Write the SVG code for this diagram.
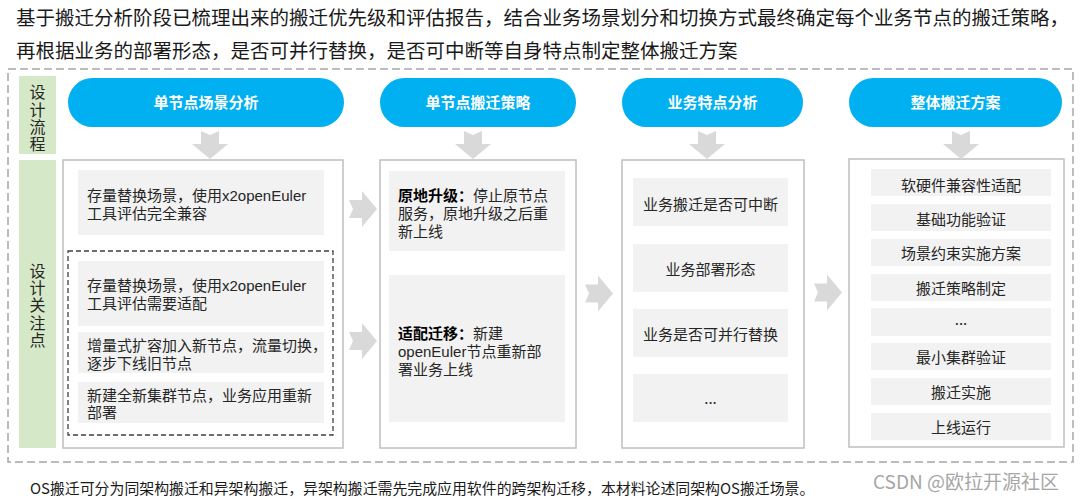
<svg xmlns="http://www.w3.org/2000/svg" width="1080" height="500" viewBox="0 0 1080 500">
<style>
  text { font-family: "Noto Sans CJK SC", "Noto Sans", sans-serif; fill: #262626; }
  .title { font-size: 19.5px; fill: #1a1a1a; }
  .note { font-size: 14.9px; fill: #1a1a1a; }
  .wm { font-size: 19px; fill: #a6a6a6; }
  .side { font-size: 16px; fill: #262626; writing-mode: vertical-rl; text-anchor: middle; letter-spacing: 1.3px; }
  .pill { fill: #00b0f0; }
  .pilltxt { font-size: 15px; font-weight: bold; fill: #ffffff; text-anchor: middle; }
  .col { fill: #ffffff; stroke: #bfbfbf; stroke-width: 1.5; }
  .item { fill: #f2f2f2; }
  .t { font-size: 15px; }
  .m { font-family: "Liberation Sans", "Noto Sans CJK SC", sans-serif; font-size: 15px; }
  .c { text-anchor: middle; }
  .b { font-weight: bold; fill: #000000; }
  .green { fill: #d5e8c8; }
  .arrow { fill: #d9d9d9; }
</style>
<defs>
  <path id="arr" d="M -9 0 L 0 4 L 9 0 L 9 13 L 18 13 L 0 28 L -18 13 L -9 13 Z"/>
</defs>
<rect width="1080" height="500" fill="#ffffff"/>

<text class="title" x="16" y="25">基于搬迁分析阶段已梳理出来的搬迁优先级和评估报告，结合业务场景划分和切换方式最终确定每个业务节点的搬迁策略，</text>
<text class="title" x="16" y="58">再根据业务的部署形态，是否可并行替换，是否可中断等自身特点制定整体搬迁方案</text>

<rect id="frame" x="8" y="69" width="1065" height="393" fill="none" stroke="#a6a6a6" stroke-width="1.5" stroke-dasharray="8 4"/>

<g id="label-flow">
  <rect class="green" x="19" y="76" width="37" height="78"/>
  <text class="side" x="37.5" y="119">设计流程</text>
</g>
<g id="label-focus">
  <rect class="green" x="19" y="160" width="37" height="288"/>
  <text class="side" x="37.5" y="306">设计关注点</text>
</g>

<g id="pill1">
  <rect class="pill" x="68" y="78" width="276" height="49" rx="24.5"/>
  <text class="pilltxt" x="206" y="107.5">单节点场景分析</text>
</g>
<g id="pill2">
  <rect class="pill" x="380" y="78" width="196" height="49" rx="24.5"/>
  <text class="pilltxt" x="478" y="107.5">单节点搬迁策略</text>
</g>
<g id="pill3">
  <rect class="pill" x="622" y="78" width="181" height="49" rx="24.5"/>
  <text class="pilltxt" x="712.5" y="107.5">业务特点分析</text>
</g>
<g id="pill4">
  <rect class="pill" x="849" y="78" width="213" height="49" rx="24.5"/>
  <text class="pilltxt" x="955.5" y="107.5">整体搬迁方案</text>
</g>

<g id="col1">
  <rect class="col" x="63" y="160" width="280" height="288"/>
  <rect class="item" x="78" y="170" width="246" height="65"/>
  <text class="m" x="87" y="200.5">存量替换场景，使用x2openEuler<tspan x="87" dy="18">工具评估完全兼容</tspan></text>
  <rect x="68" y="251" width="265" height="184" fill="none" stroke="#404040" stroke-width="1.3" stroke-dasharray="5 3"/>
  <rect class="item" x="78" y="261" width="246" height="65"/>
  <text class="m" x="87" y="290.5">存量替换场景，使用x2openEuler<tspan x="87" dy="18">工具评估需要适配</tspan></text>
  <rect class="item" x="78" y="332" width="246" height="41"/>
  <text class="m" x="87" y="350.5">增量式扩容加入新节点，流量切换，<tspan x="87" dy="18">逐步下线旧节点</tspan></text>
  <rect class="item" x="78" y="382" width="246" height="41"/>
  <text class="m" x="87" y="400.5">新建全新集群节点，业务应用重新<tspan x="87" dy="17.5">部署</tspan></text>
</g>

<g id="col2">
  <rect class="col" x="380" y="160" width="196" height="288"/>
  <rect class="item" x="389" y="171" width="176" height="80"/>
  <text class="m" x="398" y="200.5"><tspan class="b">原地升级：</tspan>停止原节点<tspan x="398" dy="18">服务，原地升级之后重</tspan><tspan x="398" dy="18">新上线</tspan></text>
  <rect class="item" x="389" y="275" width="176" height="147"/>
  <text class="m" x="398" y="338.5"><tspan class="b">适配迁移：</tspan>新建<tspan x="398" dy="18">openEuler节点重新部</tspan><tspan x="398" dy="18">署业务上线</tspan></text>
</g>

<g id="col3">
  <rect class="col" x="622" y="160" width="182" height="288"/>
  <rect class="item" x="633" y="178" width="155" height="48"/>
  <text class="t c" x="710.5" y="209.5">业务搬迁是否可中断</text>
  <rect class="item" x="633" y="244" width="155" height="48"/>
  <text class="t c" x="710.5" y="274.5">业务部署形态</text>
  <rect class="item" x="633" y="309" width="155" height="48"/>
  <text class="t c" x="710.5" y="339.5">业务是否可并行替换</text>
  <rect class="item" x="633" y="374" width="155" height="48"/>
  <text class="t c" x="710.5" y="404">...</text>
</g>

<g id="col4">
  <rect class="col" x="849" y="159" width="215" height="288"/>
  <rect class="item" x="871" y="169" width="180" height="27"/>
  <text class="t c" x="961" y="190.5">软硬件兼容性适配</text>
  <rect class="item" x="871" y="204" width="180" height="27"/>
  <text class="t c" x="961" y="224.5">基础功能验证</text>
  <rect class="item" x="871" y="239" width="180" height="27"/>
  <text class="t c" x="961" y="258.5">场景约束实施方案</text>
  <rect class="item" x="871" y="274" width="180" height="27"/>
  <text class="t c" x="961" y="293.5">搬迁策略制定</text>
  <rect class="item" x="871" y="308" width="180" height="28"/>
  <text class="t c" x="961" y="325">...</text>
  <rect class="item" x="871" y="343" width="180" height="27"/>
  <text class="t c" x="961" y="362.5">最小集群验证</text>
  <rect class="item" x="871" y="378" width="180" height="27"/>
  <text class="t c" x="961" y="397.5">搬迁实施</text>
  <rect class="item" x="871" y="413" width="180" height="27"/>
  <text class="t c" x="961" y="432.5">上线运行</text>
</g>

<g id="connectors" class="arrow">
  <use href="#arr" transform="translate(210,131)"/>
  <use href="#arr" transform="translate(473,131)"/>
  <use href="#arr" transform="translate(707,131)"/>
  <use href="#arr" transform="translate(961,131)"/>
  <use href="#arr" transform="translate(349,209) rotate(-90)"/>
  <use href="#arr" transform="translate(349,341) rotate(-90)"/>
  <use href="#arr" transform="translate(585,293.5) rotate(-90)"/>
  <use href="#arr" transform="translate(814,292.5) rotate(-90)"/>
</g>

<text class="note" x="30" y="494">OS搬迁可分为同架构搬迁和异架构搬迁，异架构搬迁需先完成应用软件的跨架构迁移，本材料论述同架构OS搬迁场景。</text>
<text class="wm" x="873" y="489">CSDN @欧拉开源社区</text>
</svg>
